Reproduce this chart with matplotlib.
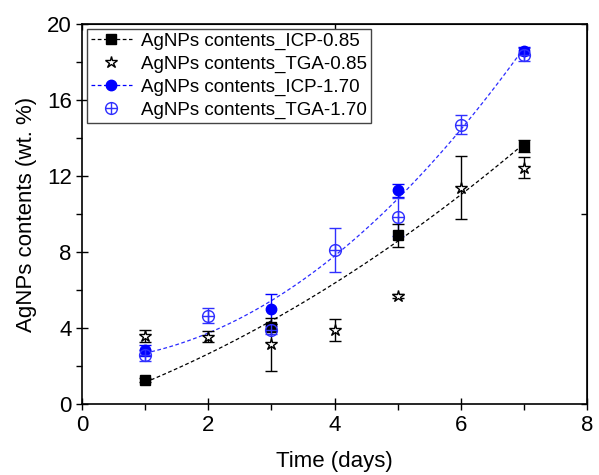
import numpy as np
import matplotlib.pyplot as plt
from matplotlib.path import Path

plt.rcParams['font.family'] = ['Liberation Sans', 'DejaVu Sans']

# data
days = [1, 3, 5, 7]
icp_085 = [1.26, 4.07, 8.9, 13.6]
icp_085_err = [0.1, 0.15, 0.6, 0.3]

tga_days = [1, 2, 3, 4, 5, 6, 7]
tga_085 = [3.6, 3.55, 3.15, 3.9, 5.7, 11.4, 12.45]
tga_085_err = [0.3, 0.3, 1.4, 0.58, 0.1, 1.65, 0.55]

icp_170 = [2.84, 5.0, 11.26, 18.6]
icp_170_err = [0.3, 0.8, 0.35, 0.2]

tga_170 = [2.58, 4.65, 3.9, 8.1, 9.83, 14.7, 18.4]
tga_170_err = [0.3, 0.4, 0.2, 1.16, 1.0, 0.5, 0.35]

# circle with cross marker
circ = Path.unit_circle()
cross = Path([(-1, 0), (1, 0), (0, -1), (0, 1)],
             [Path.MOVETO, Path.LINETO, Path.MOVETO, Path.LINETO])
oplus = Path.make_compound_path(circ, cross)

fig = plt.figure(figsize=(5.99, 4.75), dpi=100)
ax = fig.add_axes([0.137, 0.149, 0.843, 0.8])

# fitted curves (quadratic fit to ICP points)
xf = np.linspace(1, 7, 100)
p1 = np.polyfit(days, icp_085, 2)
p2 = np.polyfit(days, icp_170, 2)
ax.plot(xf, np.polyval(p1, xf), color='black', ls=(0, (3, 2)), lw=0.9, zorder=1)
ax.plot(xf, np.polyval(p2, xf), color='#2b2bff', ls=(0, (3, 2)), lw=0.9, zorder=1)

ax.errorbar(days, icp_085, yerr=icp_085_err, fmt='s', color='black', ms=6.5,
            capsize=4, elinewidth=1, zorder=3)
ax.errorbar(tga_days, tga_085, yerr=tga_085_err, fmt='*', color='black', mfc='white',
            ms=9, mew=1, capsize=4, elinewidth=1, zorder=3)
ax.errorbar(days, icp_170, yerr=icp_170_err, fmt='o', color='blue', ms=7.5,
            capsize=4, elinewidth=1, zorder=2)
ax.errorbar(tga_days, tga_170, yerr=tga_170_err, fmt='none', ecolor='#3030ff',
            capsize=4, elinewidth=1, zorder=2)
ax.plot(tga_days, tga_170, ls='none', marker=oplus, ms=8.5, mfc='none',
        mec='#3030ff', mew=1, zorder=4)

# legend handles
h1, = ax.plot([], [], color='black', ls=(0, (3, 2)), lw=0.9, marker='s', ms=6.5)
h2, = ax.plot([], [], ls='none', marker='*', color='black', mfc='white', ms=9, mew=1)
h3, = ax.plot([], [], color='blue', ls=(0, (3, 2)), lw=0.9, marker='o', ms=7.5)
h4, = ax.plot([], [], ls='none', marker=oplus, ms=8.5, mfc='none', mec='#3030ff', mew=1)
leg = ax.legend([h1, h2, h3, h4],
                ['AgNPs contents_ICP-0.85', 'AgNPs contents_TGA-0.85',
                 'AgNPs contents_ICP-1.70', 'AgNPs contents_TGA-1.70'],
                loc='upper left', fontsize=13.5, fancybox=False, edgecolor='#444444',
                framealpha=1, borderpad=0.2, labelspacing=0.3, handlelength=2.2,
                handletextpad=0.5, borderaxespad=0.25)
leg.get_frame().set_linewidth(1)

ax.set_xlim(0, 8)
ax.set_ylim(0, 20)
ax.set_xticks([0, 2, 4, 6, 8])
ax.set_xticks([1, 3, 5, 7], minor=True)
ax.set_yticks([0, 4, 8, 12, 16, 20])
ax.set_yticks([2, 6, 10, 14, 18], minor=True)
ax.tick_params(which='major', direction='inout', length=8, width=1, labelsize=16)
ax.tick_params(which='minor', direction='out', length=4, width=1)
for s in ax.spines.values():
    s.set_linewidth(1.2)

# top and right axes with sparse inward ticks
top = ax.secondary_xaxis('top')
top.set_xticks([0, 4, 8])
top.tick_params(direction='in', length=4, width=1, labeltop=False)
right = ax.secondary_yaxis('right')
right.set_yticks([0, 10, 20])
right.tick_params(direction='in', length=4, width=1, labelright=False)

ax.set_xlabel('Time (days)', fontsize=16, labelpad=11)
ax.set_ylabel('AgNPs contents (wt. %)', fontsize=16, labelpad=7)

fig.savefig('out.png', dpi=100)
